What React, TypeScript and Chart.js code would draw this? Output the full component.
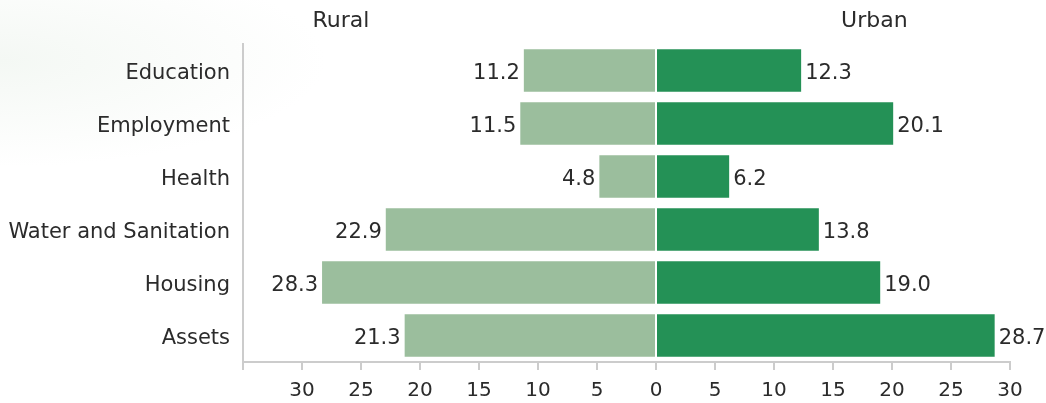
import React, { useEffect, useRef } from "react";
import { Chart, registerables } from "chart.js";

Chart.register(...registerables);

const categories = ["Education", "Employment", "Health", "Water and Sanitation", "Housing", "Assets"];
const ruralValues = [11.2, 11.5, 4.8, 22.9, 28.3, 21.3];
const urbanValues = [12.3, 20.1, 6.2, 13.8, 19.0, 28.7];
const seriesNames = ["Rural", "Urban"];
const titlePositions = [-26.7, 18.5];

const FONT = "'DejaVu Sans', sans-serif";
const TEXT = "#2b2b2b";

const labelPlugin = {
  id: "barLabels",
  afterDatasetsDraw(chart: any) {
    const ctx = chart.ctx;
    ctx.save();
    ctx.font = `21px ${FONT}`;
    ctx.fillStyle = TEXT;
    ctx.textBaseline = "middle";
    chart.data.datasets.forEach((ds: any, di: number) => {
      const meta = chart.getDatasetMeta(di);
      meta.data.forEach((bar: any, i: number) => {
        const v = ds.data[i];
        const txt = Math.abs(v).toFixed(1);
        if (v < 0) {
          ctx.textAlign = "right";
          ctx.fillText(txt, bar.x - 4, bar.y + 3);
        } else {
          ctx.textAlign = "left";
          ctx.fillText(txt, bar.x + 4, bar.y + 3);
        }
      });
    });
    const xs = chart.scales.x;
    ctx.font = `22px ${FONT}`;
    ctx.textAlign = "center";
    seriesNames.forEach((n, i) => {
      ctx.fillText(n, xs.getPixelForValue(titlePositions[i]), 21);
    });
    ctx.restore();
  },
};

export default function App() {
  const ref = useRef<HTMLCanvasElement>(null);
  useEffect(() => {
    const chart = new Chart(ref.current as HTMLCanvasElement, {
      type: "bar",
      data: {
        labels: categories,
        datasets: [
          {
            label: seriesNames[0],
            data: ruralValues.map((v) => -v),
            backgroundColor: "#9bbe9d",
            categoryPercentage: 0.8,
            barPercentage: 1,
          },
          {
            label: seriesNames[1],
            data: urbanValues,
            backgroundColor: "#249156",
            categoryPercentage: 0.8,
            barPercentage: 1,
          },
        ],
      },
      options: {
        indexAxis: "y",
        animation: false,
        responsive: true,
        maintainAspectRatio: false,
        layout: { padding: { top: 44, right: 36, bottom: 0, left: 0 } },
        plugins: { legend: { display: false }, tooltip: { enabled: false } },
        scales: {
          x: {
            stacked: true,
            min: -35,
            max: 30,
            grid: { drawOnChartArea: false, drawTicks: true, tickLength: 8, color: "#cccccc", lineWidth: 2 },
            border: { display: true, color: "#cccccc", width: 2 },
            ticks: {
              stepSize: 5,
              padding: 9,
              color: TEXT,
              font: { family: FONT, size: 20 },
              callback: (v: any) => (v === -35 ? "" : String(Math.abs(v))),
            },
            afterFit: (scale: any) => {
              scale.height = 41;
            },
          },
          y: {
            stacked: true,
            grid: { display: false },
            border: { display: true, color: "#cccccc", width: 2 },
            ticks: { padding: 5, labelOffset: 3, color: TEXT, font: { family: FONT, size: 21 } },
            afterFit: (scale: any) => {
              scale.width = 243;
            },
          },
        },
      },
      plugins: [labelPlugin],
    });
    return () => chart.destroy();
  }, []);
  return (
    <div
      style={{
        position: "fixed",
        left: 0,
        top: 0,
        width: 1046,
        height: 403,
        background: "radial-gradient(ellipse at 0% 15%, #f4f8f4 0%, #ffffff 22%)",
      }}
    >
      <canvas ref={ref} />
    </div>
  );
}
